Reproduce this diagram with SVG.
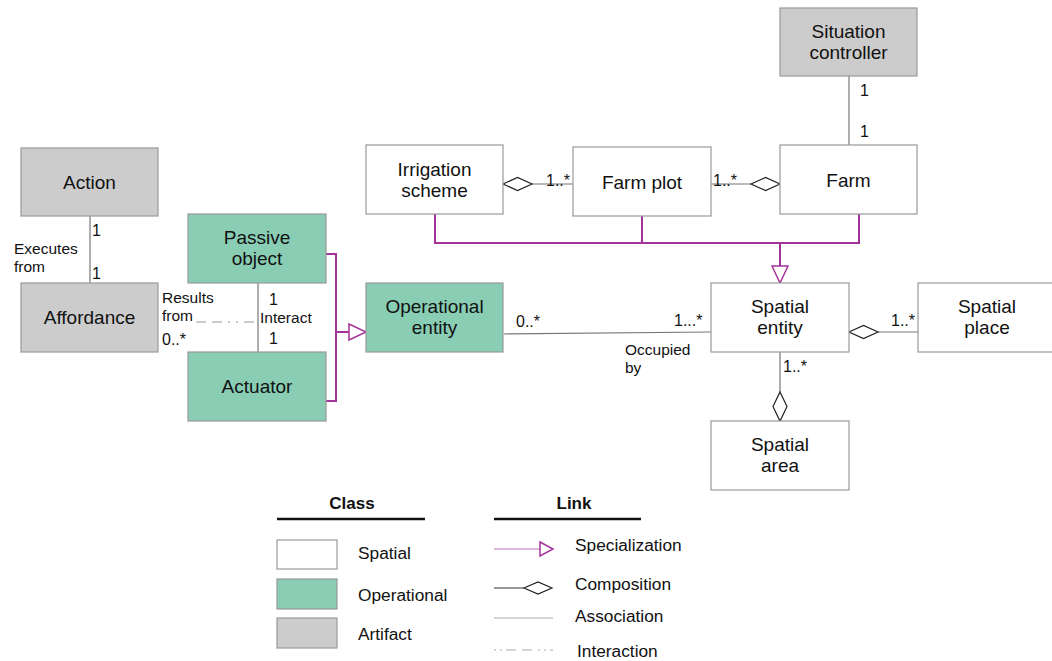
<svg xmlns="http://www.w3.org/2000/svg" width="1052" height="661" viewBox="0 0 1052 661">
<style>
.n{stroke:#999;stroke-width:1.2}
.sp{fill:#fff}
.op{fill:#88cdb4}
.ar{fill:#cccccc}
.t{font-family:"Liberation Sans",Arial,sans-serif;font-size:19px;fill:#111;text-anchor:middle}
.l{font-family:"Liberation Sans",Arial,sans-serif;font-size:16px;fill:#111}
.s{font-family:"Liberation Sans",Arial,sans-serif;font-size:15.5px;fill:#111}
.g{font-family:"Liberation Sans",Arial,sans-serif;font-size:17.3px;fill:#111}
.b{font-family:"Liberation Sans",Arial,sans-serif;font-size:17px;font-weight:bold;fill:#111;text-anchor:middle}
.as{stroke:#777;stroke-width:1.2;fill:none}
.gen{stroke:#a33399;stroke-width:2;fill:none}
.tri{stroke:#a33399;stroke-width:1.5;fill:#fff}
.dia{stroke:#222;stroke-width:1.2;fill:#fff}
.dash{stroke:#999;stroke-width:1.2;fill:none;stroke-dasharray:10 6 10 6 2 6 2 6}
</style>
<rect width="1052" height="661" fill="#fff"/>
<g id="connectors">
<line class="as" x1="849" y1="76" x2="849" y2="145"/>
<text class="l" x="860" y="96">1</text>
<text class="l" x="860" y="137">1</text>
<line class="as" x1="90" y1="216" x2="90" y2="283"/>
<text class="l" x="92" y="236">1</text>
<text class="l" x="92" y="279">1</text>
<text class="s" x="14" y="254">Executes</text>
<text class="s" x="14" y="272">from</text>
<line class="as" x1="258" y1="283" x2="258" y2="352"/>
<text class="l" x="269" y="305">1</text>
<text class="s" x="260" y="323">Interact</text>
<text class="l" x="269" y="344">1</text>
<line class="dash" x1="196" y1="322" x2="258" y2="322"/>
<text class="s" x="162" y="303">Results</text>
<text class="s" x="162" y="321">from</text>
<text class="l" x="162" y="345">0..*</text>
<path class="gen" d="M326 254H336V401H326M336 332H349"/>
<path class="tri" d="M349 324L366 332L349 340Z"/>
<path class="gen" d="M435 214V243H859V214M642 216V243M780 243V266"/>
<path class="tri" d="M772 266L780 283L788 266Z"/>
<line class="as" x1="532" y1="184" x2="573" y2="184"/>
<path class="dia" d="M503 184L517.5 177.5L532 184L517.5 190.5Z"/>
<text class="l" x="546" y="186">1..*</text>
<line class="as" x1="711" y1="184" x2="751" y2="184"/>
<path class="dia" d="M751 184L765.5 177.5L780 184L765.5 190.5Z"/>
<text class="l" x="713" y="186">1..*</text>
<line class="as" x1="504" y1="334" x2="711" y2="332"/>
<text class="l" x="516" y="327">0..*</text>
<text class="l" x="674" y="326">1...*</text>
<text class="s" x="625" y="355">Occupied</text>
<text class="s" x="625" y="373">by</text>
<line class="as" x1="878" y1="332" x2="918" y2="332"/>
<path class="dia" d="M849 332L863.5 325.5L878 332L863.5 338.5Z"/>
<text class="l" x="891" y="326">1..*</text>
<line class="as" x1="780" y1="352" x2="780" y2="392"/>
<path class="dia" d="M780 392L787 406.5L780 421L773 406.5Z"/>
<text class="l" x="783" y="372">1..*</text>
</g>
<g id="situation-controller"><rect class="n ar" x="780" y="8" width="137" height="68"/><text class="t" x="848.5" y="38">Situation</text><text class="t" x="848.5" y="59">controller</text></g>
<g id="farm"><rect class="n sp" x="780" y="145" width="137" height="69"/><text class="t" x="848.5" y="187">Farm</text></g>
<g id="farm-plot"><rect class="n sp" x="573" y="147" width="138" height="69"/><text class="t" x="642" y="189">Farm plot</text></g>
<g id="irrigation-scheme"><rect class="n sp" x="366" y="145" width="137" height="69"/><text class="t" x="434.5" y="176">Irrigation</text><text class="t" x="434.5" y="197">scheme</text></g>
<g id="action"><rect class="n ar" x="21" y="148" width="137" height="68"/><text class="t" x="89.5" y="189">Action</text></g>
<g id="affordance"><rect class="n ar" x="21" y="283" width="137" height="69"/><text class="t" x="89.5" y="324">Affordance</text></g>
<g id="passive-object"><rect class="n op" x="188" y="214" width="138" height="69"/><text class="t" x="257" y="244">Passive</text><text class="t" x="257" y="265">object</text></g>
<g id="actuator"><rect class="n op" x="188" y="352" width="138" height="69"/><text class="t" x="257" y="393">Actuator</text></g>
<g id="operational-entity"><rect class="n op" x="366" y="283" width="137" height="69"/><text class="t" x="434.5" y="313">Operational</text><text class="t" x="434.5" y="334">entity</text></g>
<g id="spatial-entity"><rect class="n sp" x="711" y="283" width="138" height="69"/><text class="t" x="780" y="313">Spatial</text><text class="t" x="780" y="334">entity</text></g>
<g id="spatial-place"><rect class="n sp" x="918" y="283" width="138" height="69"/><text class="t" x="987" y="313">Spatial</text><text class="t" x="987" y="334">place</text></g>
<g id="spatial-area"><rect class="n sp" x="711" y="421" width="138" height="69"/><text class="t" x="780" y="451">Spatial</text><text class="t" x="780" y="472">area</text></g>
<g id="legend">
<text class="b" x="352" y="509">Class</text>
<line x1="277" y1="519" x2="425" y2="519" stroke="#111" stroke-width="2.5"/>
<text class="b" x="574" y="509">Link</text>
<line x1="494" y1="519" x2="641" y2="519" stroke="#111" stroke-width="2.5"/>
<rect class="n sp" x="277" y="540" width="60" height="29"/>
<text class="g" x="358" y="559">Spatial</text>
<rect class="n op" x="277" y="579" width="60" height="30"/>
<text class="g" x="358" y="601">Operational</text>
<rect class="n ar" x="277" y="618" width="60" height="30"/>
<text class="g" x="358" y="640">Artifact</text>
<line x1="494" y1="549" x2="540" y2="549" stroke="#c070b8" stroke-width="1.2"/>
<path class="tri" d="M540 542L553 549L540 556Z"/>
<text class="g" x="575" y="551">Specialization</text>
<line x1="494" y1="588" x2="524" y2="588" stroke="#333" stroke-width="1"/>
<path class="dia" d="M524 588L538 582L552 588L538 594Z"/>
<text class="g" x="575" y="590">Composition</text>
<line x1="494" y1="618" x2="553" y2="618" stroke="#aaa" stroke-width="1.2"/>
<text class="g" x="575" y="622">Association</text>
<line x1="494" y1="650" x2="553" y2="650" stroke="#aaa" stroke-width="1.2" stroke-dasharray="2 4 2 4 10 6 10 6"/>
<text class="g" x="577" y="657">Interaction</text>
</g>
</svg>
